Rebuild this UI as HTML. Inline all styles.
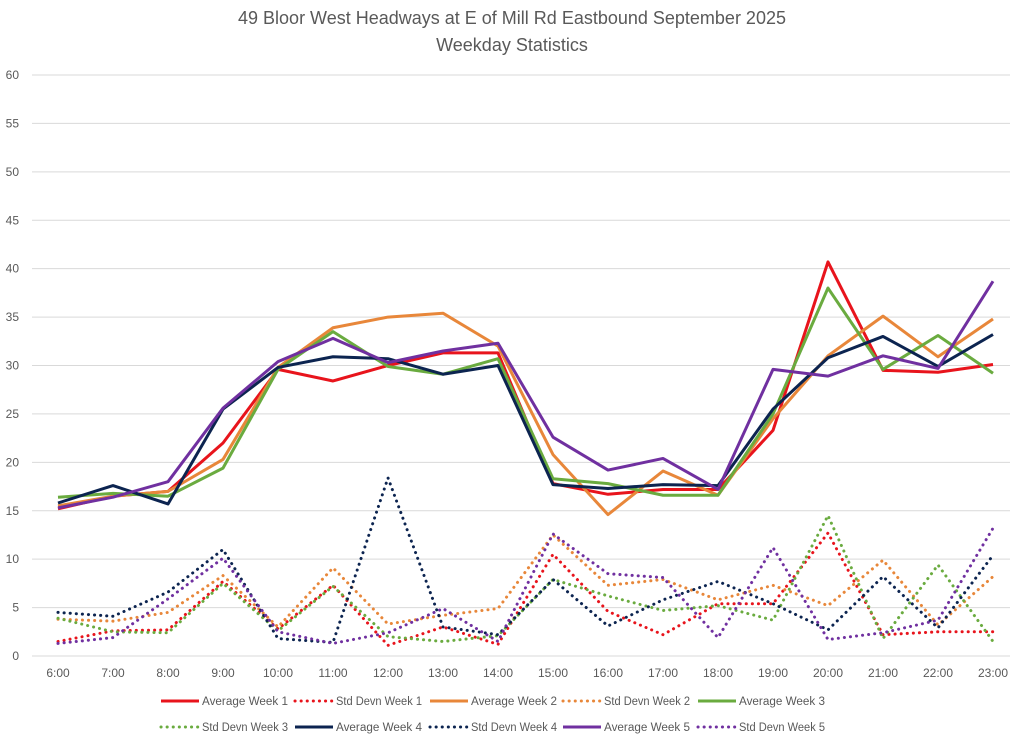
<!DOCTYPE html>
<html><head><meta charset="utf-8"><style>
body{margin:0;background:#fff;}
svg text{font-family:"Liberation Sans",sans-serif;}
</style></head><body>
<svg id="chart" width="1024" height="742" xmlns="http://www.w3.org/2000/svg">
<text x="512" y="24" text-anchor="middle" font-size="18" fill="#595959">49 Bloor West Headways at E of Mill Rd Eastbound September 2025</text>
<text x="512" y="51" text-anchor="middle" font-size="18" fill="#595959">Weekday Statistics</text>
<g id="grid"></g><g id="series"></g><g id="legend"></g>
</svg>
<script>
const categories=["6:00","7:00","8:00","9:00","10:00","11:00","12:00","13:00","14:00","15:00","16:00","17:00","18:00","19:00","20:00","21:00","22:00","23:00"];
const yTicks=[0,5,10,15,20,25,30,35,40,45,50,55,60];
const avgW1=[15.2,16.5,17,22,29.6,28.4,30,31.3,31.3,17.8,16.7,17.2,17.2,23.3,40.7,29.5,29.3,30.1];
const sdW1=[1.5,2.6,2.7,7.7,2.8,7.3,1.1,3,1.2,10.5,4.6,2.2,5.4,5.4,12.7,2.2,2.5,2.5];
const avgW2=[15.5,16.5,17,20.3,29.8,33.9,35,35.4,32,20.8,14.6,19.1,16.6,24.5,31,35.1,30.9,34.8];
const sdW2=[3.8,3.6,4.5,8.3,3,9.1,3.3,4.2,4.9,12.5,7.3,7.9,5.8,7.3,5.2,9.9,3.2,8.2];
const avgW3=[16.4,16.8,16.5,19.4,29.6,33.5,29.9,29.1,30.7,18.3,17.8,16.6,16.6,25,38,29.6,33.1,29.2];
const sdW3=[3.9,2.5,2.4,7.5,2.6,7.2,2,1.5,2.1,7.9,6.2,4.7,5.2,3.7,14.5,1.8,9.4,1.5];
const avgW4=[15.8,17.6,15.7,25.5,29.8,30.9,30.7,29.1,30,17.7,17.3,17.7,17.6,25.5,30.8,33,29.9,33.2];
const sdW4=[4.5,4.1,6.6,11,1.8,1.4,18.4,3,2.2,7.9,3.1,5.8,7.7,5.4,2.7,8.2,2.9,10.4];
const avgW5=[15.3,16.4,18,25.6,30.4,32.8,30.3,31.5,32.3,22.6,19.2,20.4,17.2,29.6,28.9,31,29.7,38.7];
const sdW5=[1.3,1.9,5.9,10.1,2.5,1.3,2.4,4.9,1.5,12.6,8.5,8.1,1.9,11.2,1.7,2.4,3.7,13.2];
const NS="http://www.w3.org/2000/svg";
const x=i=>58+i*55;
const y=v=>656-v*(581/60);
function mk(t,a,p){const e=document.createElementNS(NS,t);for(const k in a)e.setAttribute(k,a[k]);p.appendChild(e);return e;}
const grid=document.getElementById('grid');
yTicks.forEach(v=>{
 const l=mk('line',{x1:32,x2:1010,y1:y(v),y2:y(v),stroke:'#d9d9d9','stroke-width':1},grid);
 
 
 const t=mk('text',{x:19,y:y(v)+4,'text-anchor':'end','font-size':12,fill:'#595959'},grid);
 t.textContent=v;
 
 
});
categories.forEach((c,i)=>{
 const t=mk('text',{x:x(i),y:677,'text-anchor':'middle','font-size':12,fill:'#595959'},grid);
 t.textContent=c;
 
 
});
const series=[
 ["Average Week 1",avgW1,"#e8141c",false],["Std Devn Week 1",sdW1,"#e8141c",true],
 ["Average Week 2",avgW2,"#e8873a",false],["Std Devn Week 2",sdW2,"#e8873a",true],
 ["Average Week 3",avgW3,"#6aab3f",false],["Std Devn Week 3",sdW3,"#6aab3f",true],
 ["Average Week 4",avgW4,"#0c2450",false],["Std Devn Week 4",sdW4,"#0c2450",true],
 ["Average Week 5",avgW5,"#7030a0",false],["Std Devn Week 5",sdW5,"#7030a0",true]];
const sg=document.getElementById('series');
series.forEach(([n,d,c,dot])=>{
 const a={fill:'none',stroke:c,'stroke-width':3,'stroke-linejoin':'round',points:d.map((v,i)=>x(i)+','+y(v)).join(' ')};
 if(dot){a['stroke-dasharray']='0.1 6';a['stroke-linecap']='round';}
 const p=mk('polyline',a,sg);
 
 
});
const lg=document.getElementById('legend');
const lx=[161,295,430,563,698];
series.forEach(([n,d,c,dot],k)=>{
 const row=k<5?0:1, col=k%5, yy=row?731:705, x0=lx[col];
 const g=mk('g',{},lg);
 
 
 const a={x1:x0,x2:x0+38,y1:yy-4,y2:yy-4,stroke:c,'stroke-width':3};
 if(dot){a['stroke-dasharray']='0.1 6';a['stroke-linecap']='round';}
 mk('line',a,g);
 const t=mk('text',{x:x0+41,y:yy,'font-size':11.5,fill:'#595959',textLength:86,lengthAdjust:'spacingAndGlyphs'},g);
 t.textContent=n;
});
</script>
</body></html>
